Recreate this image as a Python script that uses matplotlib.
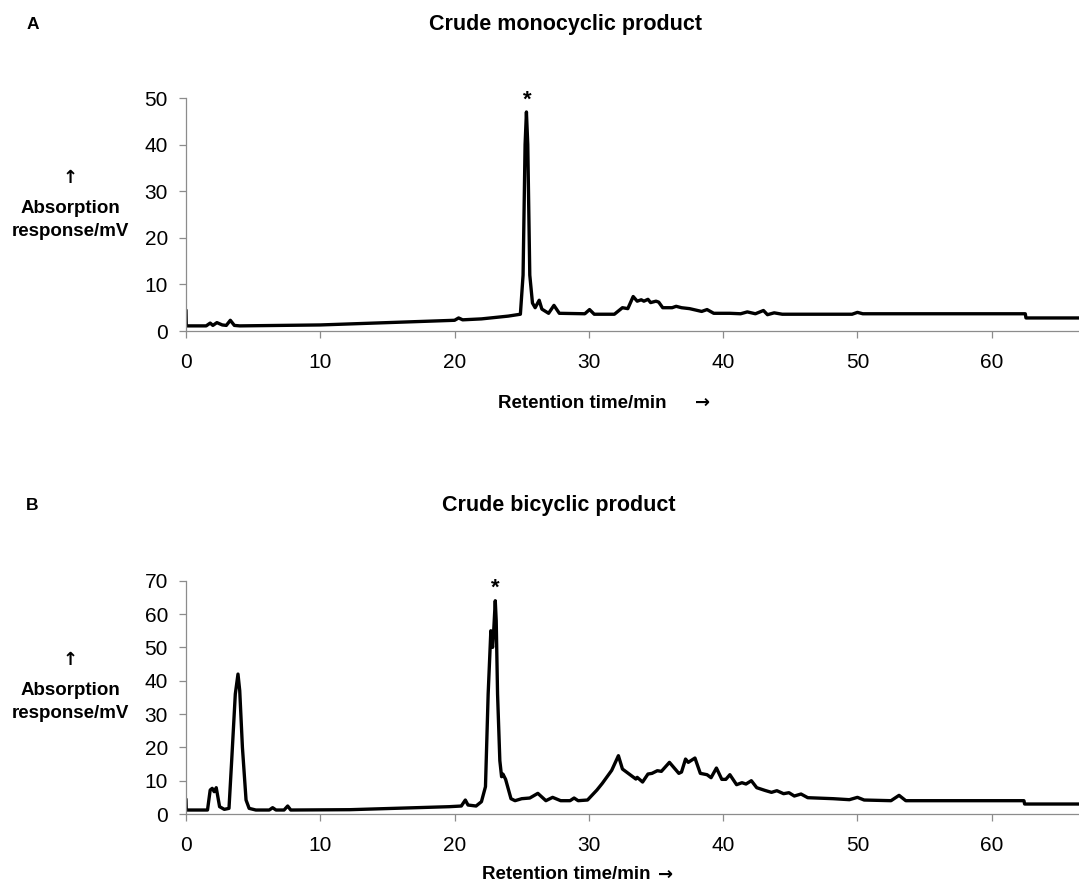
import matplotlib
matplotlib.use('Agg')
import matplotlib.pyplot as plt

plt.rcParams['font.family'] = ['Liberation Sans', 'DejaVu Sans']

# trace A: crude monocyclic product (time/min, response/mV)
time_a = [0.0, 0.02, 0.1, 1.5, 1.8, 2.0, 2.3, 2.7, 3.0, 3.3, 3.6, 4.0, 10.0, 15.0, 20.0, 20.3, 20.6,
          22.0, 24.0, 24.9, 25.1, 25.25, 25.35, 25.45, 25.6, 25.8, 26.0, 26.3, 26.5, 27.0, 27.4,
          27.8, 29.7, 30.05, 30.4, 31.9, 32.5, 32.9, 33.3, 33.6, 33.9, 34.1, 34.4, 34.6, 35.0,
          35.2, 35.5, 36.2, 36.5, 36.9, 37.5, 38.4, 38.8, 39.3, 40.5, 41.3, 41.8, 42.4, 43.0,
          43.3, 43.8, 44.4, 49.6, 50.0, 50.4, 62.5, 62.55, 66.5]
resp_a = [4.3, 1.1, 1.1, 1.1, 1.7, 1.2, 1.8, 1.3, 1.2, 2.3, 1.2, 1.1, 1.3, 1.8, 2.3, 2.8, 2.4,
          2.6, 3.2, 3.6, 12.0, 40.0, 47.0, 40.0, 12.0, 6.0, 5.0, 6.6, 4.7, 3.8, 5.5,
          3.8, 3.7, 4.6, 3.6, 3.6, 5.0, 4.8, 7.4, 6.4, 6.7, 6.4, 6.8, 6.1, 6.4,
          6.2, 5.0, 5.0, 5.3, 5.0, 4.8, 4.2, 4.6, 3.8, 3.8, 3.7, 4.1, 3.7, 4.4,
          3.5, 3.9, 3.6, 3.6, 4.0, 3.7, 3.7, 2.8, 2.8]

# trace B: crude bicyclic product
time_b = [0.0, 0.02, 0.1, 1.6, 1.8, 1.95, 2.1, 2.25, 2.5, 2.85, 3.2, 3.4, 3.67, 3.87, 4.0, 4.2,
          4.47, 4.7, 5.2, 6.2, 6.45, 6.7, 7.3, 7.57, 7.8, 12.2, 19.6, 20.5, 20.8, 21.0, 21.6,
          22.0, 22.3, 22.5, 22.7, 22.83, 22.9, 23.03, 23.1, 23.2, 23.37, 23.5, 23.6, 23.8,
          24.2, 24.5, 25.0, 25.6, 26.2, 26.8, 27.3, 27.9, 28.6, 28.9, 29.2, 29.9, 30.6, 31.0,
          31.7, 32.2, 32.5, 33.2, 33.5, 33.6, 34.0, 34.4, 34.7, 35.1, 35.4, 36.0, 36.7, 36.9,
          37.2, 37.4, 37.9, 38.3, 38.8, 39.1, 39.5, 39.9, 40.2, 40.5, 41.0, 41.4, 41.7, 42.1,
          42.5, 43.1, 43.6, 44.0, 44.5, 44.9, 45.3, 45.8, 46.3, 48.2, 49.4, 50.0, 50.5, 52.5,
          53.1, 53.6, 62.4, 62.45, 66.5]
resp_b = [4.2, 1.2, 1.2, 1.2, 7.2, 7.7, 6.7, 7.9, 2.2, 1.4, 1.7, 16.0, 36.0, 42.0, 37.0, 20.0,
          4.2, 1.7, 1.2, 1.2, 1.9, 1.2, 1.2, 2.4, 1.2, 1.3, 2.2, 2.4, 4.2, 2.7, 2.4,
          3.7, 8.2, 36.0, 55.0, 50.0, 54.0, 64.0, 58.0, 36.0, 16.0, 11.2, 12.0, 10.4,
          4.6, 4.0, 4.6, 4.8, 6.2, 4.0, 5.0, 4.0, 4.0, 4.8, 4.0, 4.2, 7.2, 9.2,
          13.1, 17.5, 13.5, 11.4, 10.5, 11.0, 9.6, 12.0, 12.2, 13.0, 12.8, 15.5, 12.2, 12.6,
          16.5, 15.5, 16.8, 12.2, 11.8, 10.9, 13.8, 10.4, 10.4, 11.8, 8.8, 9.4, 9.0, 10.0,
          7.9, 7.1, 6.5, 7.0, 6.1, 6.4, 5.4, 6.0, 4.9, 4.6, 4.3, 5.0, 4.2, 4.0,
          5.6, 4.0, 4.0, 3.0, 3.0]

yticks_a = [0, 10, 20, 30, 40, 50]
yticks_b = [0, 10, 20, 30, 40, 50, 60, 70]
xticks = [0, 10, 20, 30, 40, 50, 60]

fig = plt.figure(figsize=(10.79, 8.91), dpi=100)
ax1 = fig.add_axes([0.1724, 0.6285, 0.8276, 0.2615])
ax2 = fig.add_axes([0.1724, 0.0864, 0.8276, 0.2618])


def style(ax, yticks):
    ax.set_xlim(0, 66.5)
    ax.set_ylim(0, yticks[-1])
    ax.set_xticks(xticks)
    ax.set_yticks(yticks)
    for s in ['top', 'right']:
        ax.spines[s].set_visible(False)
    for s in ['left', 'bottom']:
        ax.spines[s].set_color('0.55')
        ax.spines[s].set_linewidth(0.9)
    ax.tick_params(direction='out', length=5, width=0.9, color='0.55',
                   labelsize=15, labelcolor='black')
    ax.tick_params(axis='x', pad=11)
    ax.tick_params(axis='y', pad=8)


ax1.plot(time_a, resp_a, color='black', lw=2.4, solid_joinstyle='round')
style(ax1, yticks_a)
ax1.text(25.45, 47.3, '*', ha='center', va='bottom', fontsize=16, fontweight='bold')

ax2.plot(time_b, resp_b, color='black', lw=2.4, solid_joinstyle='round')
style(ax2, yticks_b)
ax2.text(23.05, 64.5, '*', ha='center', va='bottom', fontsize=16, fontweight='bold')

bold = dict(fontweight='bold', ha='center', va='center')
arrow_font = ['DejaVu Sans']
fig.text(0.030, 0.972, 'A', fontsize=12.5, **bold)
fig.text(0.524, 0.972, 'Crude monocyclic product', fontsize=15.5, **bold)
fig.text(0.030, 0.433, 'B', fontsize=12.5, **bold)
fig.text(0.518, 0.433, 'Crude bicyclic product', fontsize=15.5, **bold)

for y0 in [0.800, 0.259]:
    fig.text(0.065, y0, '↑', fontsize=13, family=arrow_font, **bold)
    fig.text(0.065, y0 - 0.0345, 'Absorption', fontsize=13.5, **bold)
    fig.text(0.065, y0 - 0.0595, 'response/mV', fontsize=13.5, **bold)

fig.text(0.540, 0.5476, 'Retention time/min', fontsize=13.5, **bold)
fig.text(0.651, 0.5476, '→', fontsize=13, family=arrow_font, **bold)
fig.text(0.525, 0.018, 'Retention time/min', fontsize=13.5, **bold)
fig.text(0.617, 0.018, '→', fontsize=13, family=arrow_font, **bold)

fig.savefig('out.png', dpi=100)
